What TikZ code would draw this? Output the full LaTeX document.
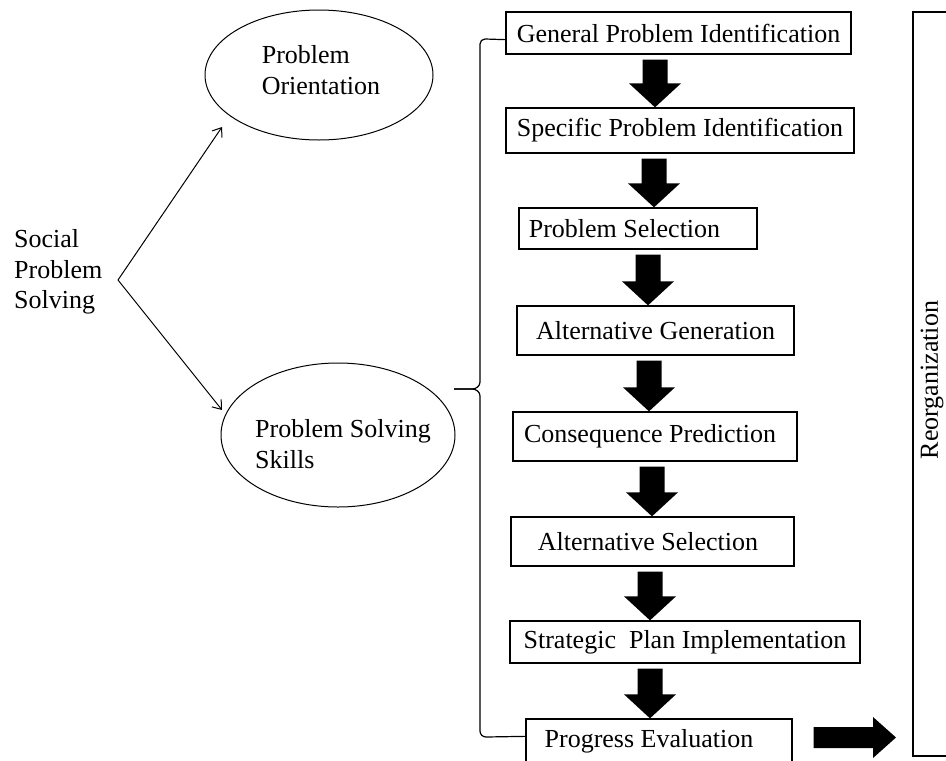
\documentclass[tikz,border=0pt]{standalone}
\usepackage{fontspec}
\setmainfont{Liberation Serif}
\usetikzlibrary{shapes.geometric,arrows.meta,calc}
\newcommand\blockdown[3]{%
  \path[blockarr] let \p1=(#1.south), \p2=(#2.north) in
   ({#3pt-12.5pt},{\y1-5pt}) -- ({#3pt+12.5pt},{\y1-5pt}) -- ({#3pt+12.5pt},{\y2+24pt})
   -- ({#3pt+26pt},{\y2+24pt}) -- ({#3pt},{\y2}) -- ({#3pt-26pt},{\y2+24pt})
   -- ({#3pt-12.5pt},{\y2+24pt}) -- cycle;}
\begin{document}
\begin{tikzpicture}[x=1pt,y=-1pt,
  every node/.style={font=\fontsize{26}{30.5}\selectfont, inner sep=0pt},
  stepbox/.style={draw, line width=1.3pt, rectangle, inner sep=0pt},
  oval/.style={draw, ellipse, line width=1pt, inner sep=0pt},
  ovaltext/.style={align=left},
  thinarrow/.style={line width=1pt, -{Straight Barb[length=8pt,width=12pt]}},
  bracepath/.style={line width=1.2pt},
  blockarr/.style={fill=black, draw=none}]
\useasboundingbox (0,0) rectangle (946,761);

% left part
\node[anchor=west, align=left] (sps) at (14,272) {Social\\Problem\\Solving};
\node[oval, minimum width=228pt, minimum height=130pt] (po) at (319,75) {};
\node[ovaltext] (potext) at (321,70) {Problem\\Orientation};
\node[oval, minimum width=234pt, minimum height=144pt] (pss) at (338,435) {};
\node[ovaltext] (psstext) at (343,444) {Problem Solving\\Skills};
\coordinate (apex) at (118,280);
\coordinate (potip) at (222,127);
\coordinate (psstip) at (222,410);
\draw[thinarrow] (apex) -- (potip);
\draw[thinarrow] (apex) -- (psstip);

% step boxes
\node[stepbox, minimum width=345pt, minimum height=42pt] (b1) at (678.5,33) {General Problem Identification};
\node[stepbox, minimum width=348pt, minimum height=45pt] (b2) at (680,130.5) {Specific Problem Identification};
\node[stepbox, minimum width=238pt, minimum height=41pt] (b3) at (638,228.5) {Problem Selection\hspace*{27pt}};
\node[stepbox, minimum width=277pt, minimum height=49pt] (b4) at (655.5,330.5) {Alternative Generation};
\node[stepbox, minimum width=284pt, minimum height=49pt] (b5) at (655,436.5) {Consequence Prediction\hspace*{10pt}};
\node[stepbox, minimum width=283pt, minimum height=49pt] (b6) at (652.5,541.5) {Alternative Selection\hspace*{9pt}};
\node[stepbox, minimum width=350pt, minimum height=42pt] (b7) at (685,642) {Strategic\ \ Plan Implementation};
\node[stepbox, minimum width=266pt, minimum height=44pt] (b8) at (659,741) {Progress Evaluation\hspace*{20pt}};

% block arrows
\blockdown{b1}{b2}{655}
\blockdown{b2}{b3}{654}
\blockdown{b3}{b4}{648}
\blockdown{b4}{b5}{649}
\blockdown{b5}{b6}{652}
\blockdown{b6}{b7}{650}
\blockdown{b7}{b8}{650}

% brace
\coordinate (bt) at ($(b1.south west)+(0,-15)$);
\coordinate (bb) at ($(b8.north west)+(0,18)$);
\coordinate (bmid) at (454,389);
\draw[bracepath] (bt) -- (485,39) to[out=180,in=90] (480,44) -- (480,382)
  to[out=-90,in=0] (472,389) -- (bmid);
\draw[bracepath] (bmid) -- (472,389) to[out=0,in=90] (480,396) -- (480,731)
  to[out=-90,in=180] (486,737) -- (bb);

% reorganization frame
\node[rotate=90] (reorg) at (932,380) {Reorganization};
\draw[line width=1.3pt] (946,12) -| (913,756) -- (946,756);
\coordinate (rl) at (913,737.5);

% horizontal block arrow
\path[blockarr] let \p1=(b8.east), \p2=(rl) in
  ({\x1+21pt},{\y2+10.5pt}) -- ({\x2-40pt},{\y2+10.5pt}) -- ({\x2-40pt},{\y2+20.5pt})
  -- ({\x2-17pt},{\y2}) -- ({\x2-40pt},{\y2-20.5pt}) -- ({\x2-40pt},{\y2-10.5pt})
  -- ({\x1+21pt},{\y2-10.5pt}) -- cycle;
\end{tikzpicture}
\end{document}
